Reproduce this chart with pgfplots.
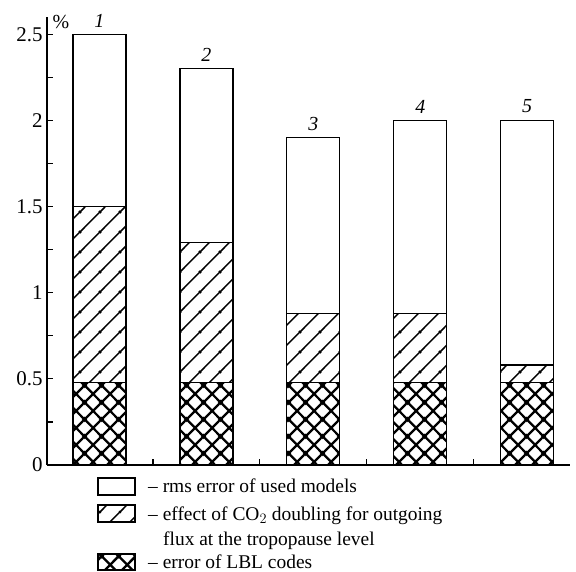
\documentclass[border=0pt]{standalone}
\usepackage{fontspec}
\setmainfont{Liberation Serif}
\usepackage{pgfplots}
\pgfplotsset{compat=1.18}
\usetikzlibrary{patterns,calc}

\pgfdeclarepatternformonly{mydiag}{\pgfpoint{0bp}{0bp}}{\pgfpoint{20bp}{20bp}}{\pgfpoint{20bp}{20bp}}{
  \pgfsetlinewidth{1.5bp}
  \pgfpathmoveto{\pgfpoint{-2bp}{-2bp}}\pgfpathlineto{\pgfpoint{22bp}{22bp}}
  \pgfpathmoveto{\pgfpoint{-2bp}{18bp}}\pgfpathlineto{\pgfpoint{2bp}{22bp}}
  \pgfpathmoveto{\pgfpoint{18bp}{-2bp}}\pgfpathlineto{\pgfpoint{22bp}{2bp}}
  \pgfusepath{stroke}}
\pgfdeclarepatternformonly{mycross}{\pgfpoint{0bp}{0bp}}{\pgfpoint{17bp}{17bp}}{\pgfpoint{17bp}{17bp}}{
  \pgfsetlinewidth{2.4bp}
  \pgfpathmoveto{\pgfpoint{-2bp}{-2bp}}\pgfpathlineto{\pgfpoint{19bp}{19bp}}
  \pgfpathmoveto{\pgfpoint{-2bp}{19bp}}\pgfpathlineto{\pgfpoint{19bp}{-2bp}}
  \pgfpathmoveto{\pgfpoint{-2bp}{15bp}}\pgfpathlineto{\pgfpoint{2bp}{19bp}}
  \pgfpathmoveto{\pgfpoint{15bp}{-2bp}}\pgfpathlineto{\pgfpoint{19bp}{2bp}}
  \pgfpathmoveto{\pgfpoint{-2bp}{2bp}}\pgfpathlineto{\pgfpoint{2bp}{-2bp}}
  \pgfpathmoveto{\pgfpoint{15bp}{19bp}}\pgfpathlineto{\pgfpoint{19bp}{15bp}}
  \pgfusepath{stroke}}

\pgfplotstableread{
x lbl co2 rms top lab
1 0.48 1.02 1.00 0.0001 1
2 0.48 0.81 1.01 0.0001 2
3 0.48 0.40 1.02 0.0001 3
4 0.48 0.40 1.12 0.0001 4
5 0.48 0.10 1.42 0.0001 5
}\data

\begin{document}
\begin{tikzpicture}
\begin{axis}[
  name=ax,
  scale only axis,
  width=523bp, height=448bp,
  xmin=0.51, xmax=5.4, ymin=0, ymax=2.6,
  axis x line=bottom, axis y line=left,
  axis line style={-, line width=1.6bp},
  ybar stacked, bar width=53bp,
  xtick={1.5,2.5,3.5,4.5}, xticklabels={},
  ytick={0,0.5,1,1.5,2,2.5},
  minor ytick={0.25,0.75,1.25,1.75,2.25},
  tick align=inside,
  major tick length=6bp, minor tick length=6bp,
  tick style={line width=1.3bp, black},
  /pgf/number format/assume math mode=true,
  yticklabel style={font=\fontsize{21}{24}\selectfont, xshift=-1bp},
  clip=false,
]
\coordinate (bl) at (rel axis cs:0,0);
\addplot[draw=black, line width=1.3bp, pattern=mycross] table[x=x,y=lbl] {\data};
\addplot[draw=black, line width=1.3bp, pattern=mydiag] table[x=x,y=co2] {\data};
\addplot[draw=black, line width=1.3bp, fill=white] table[x=x,y=rms] {\data};
\addplot[draw=none, fill=none,
  nodes near coords, point meta=explicit symbolic,
  nodes near coords style={font=\fontsize{20}{22}\selectfont\itshape, anchor=south, inner sep=2bp, yshift=5bp}]
  table[x=x,y=top,meta=lab] {\data};
\node[font=\fontsize{20}{22}\selectfont, anchor=center, xshift=14bp, yshift=-5bp] at (rel axis cs:0,1) {\%};
\end{axis}
\pgfresetboundingbox
\path ($(bl)+(-47bp,-107bp)$) rectangle ($(bl)+(529bp,465bp)$);
\begin{scope}[font=\fontsize{19.5}{24}\selectfont]
\draw[line width=1.3bp, fill=white] ($(bl)+(51bp,-13bp)$) rectangle ($(bl)+(88bp,-30bp)$);
\draw[line width=1.3bp, pattern=mydiag] ($(bl)+(51bp,-40bp)$) rectangle ($(bl)+(88bp,-57bp)$);
\draw[line width=1.3bp, pattern=mycross] ($(bl)+(51bp,-89bp)$) rectangle ($(bl)+(88bp,-105bp)$);
\node[anchor=base west, inner sep=0] at ($(bl)+(101bp,-27bp)$) {-- rms error of used models};
\node[anchor=base west, inner sep=0] at ($(bl)+(101bp,-55bp)$) {-- effect of CO$_2$ doubling for outgoing};
\node[anchor=base west, inner sep=0] at ($(bl)+(116bp,-80bp)$) {flux at the tropopause level};
\node[anchor=base west, inner sep=0] at ($(bl)+(101bp,-103bp)$) {-- error of LBL codes};
\end{scope}
\end{tikzpicture}
\end{document}
